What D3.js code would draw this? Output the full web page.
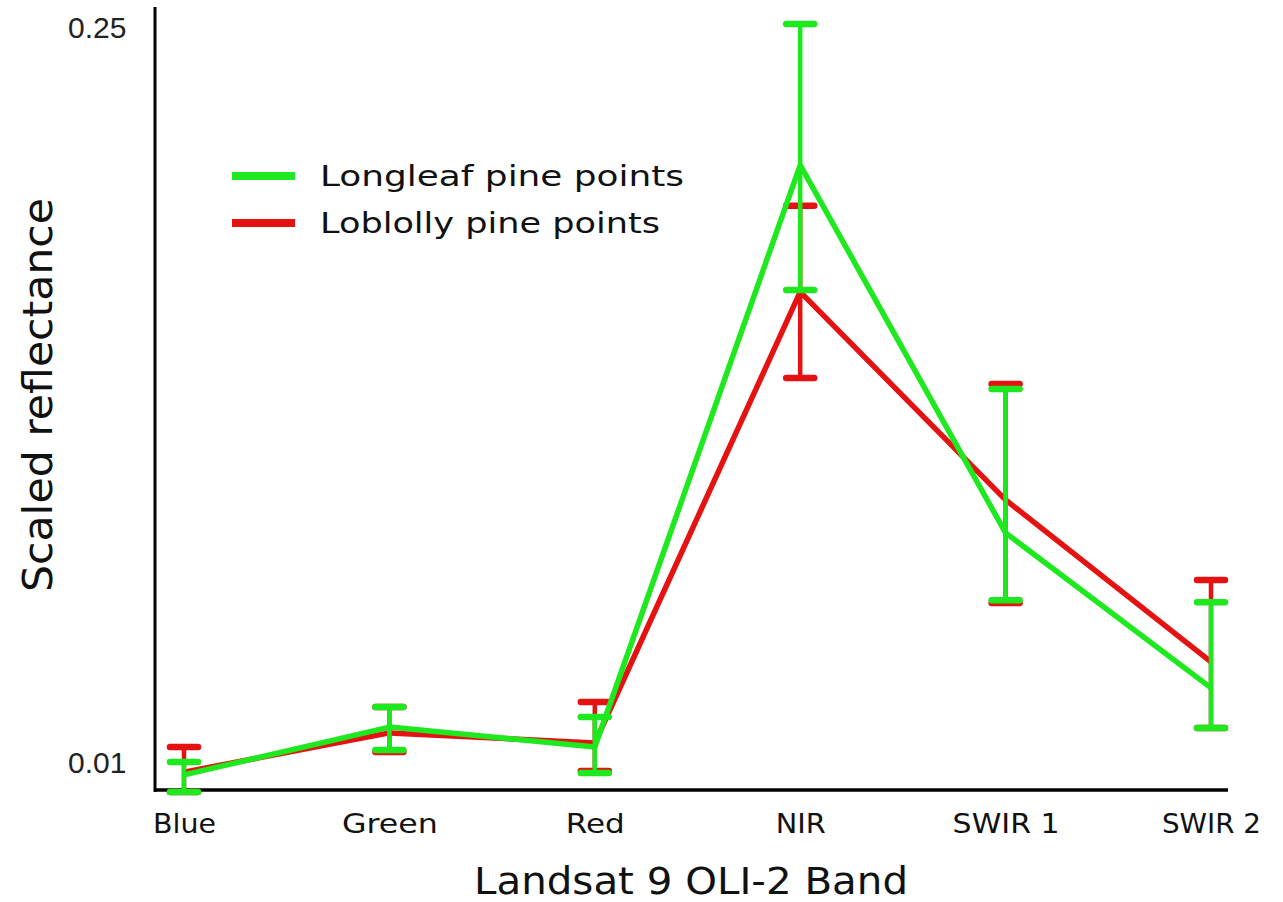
<!DOCTYPE html>
<html>
<head>
<meta charset="utf-8">
<script src="https://cdn.jsdelivr.net/npm/d3@7"></script>
<style>
  html, body { margin: 0; padding: 0; background: #fff; }
  svg { display: block; }
</style>
</head>
<body>
<svg id="chart" width="1283" height="902"></svg>
<script>
// ---- data ----
const bands = ["Blue", "Green", "Red", "NIR", "SWIR 1", "SWIR 2"];
const seriesNames = ["Longleaf pine points", "Loblolly pine points"];
const yTickValues = [0.01, 0.25];
const yTickLabels = ["0.01", "0.25"];

const longleafMean = [0.0058, 0.0214, 0.0149, 0.2049, 0.0848, 0.0342];
const longleafHigh = [0.0100, 0.0280, 0.0247, 0.2510, 0.1318, 0.0622];
const longleafLow  = [0.0002, 0.0139, 0.0064, 0.1641, 0.0628, 0.0211];

const loblollyMean = [0.0067, 0.0195, 0.0162, 0.1635, 0.0956, 0.0427];
const loblollyHigh = [0.0149, 0.0280, 0.0296, 0.1916, 0.1334, 0.0694];
const loblollyLow  = [0.0002, 0.0133, 0.0071, 0.1354, 0.0619, 0.0211];

// ---- setup ----
const svg = d3.select("#chart");
const font = "'DejaVu Sans', sans-serif";
const GREEN = "#1ee81e";
const RED = "#e51212";

const x = d3.scalePoint().domain(bands).range([184, 1211]);
const y = d3.scaleLinear().domain([0.01, 0.25]).range([762, 27]);

const plotLeft = 155, plotRight = 1228, plotTop = 7, plotBottom = 790;

// axes lines
svg.append("line").attr("x1", plotLeft).attr("x2", plotLeft)
  .attr("y1", plotTop).attr("y2", plotBottom + 2)
  .attr("stroke", "#000").attr("stroke-width", 3);
svg.append("line").attr("x1", plotLeft - 1).attr("x2", plotRight)
  .attr("y1", plotBottom).attr("y2", plotBottom)
  .attr("stroke", "#000").attr("stroke-width", 3.5);

// x axis labels
const xAxis = d3.axisBottom(x).tickSize(0).tickPadding(0);
const gx = svg.append("g").attr("transform", `translate(0,${plotBottom})`).call(xAxis);
gx.select(".domain").remove();
gx.selectAll("text")
  .attr("y", 43).attr("dy", null)
  .attr("font-family", font).attr("font-size", 27).attr("fill", "#111")
  .attr("textLength", d => ({"Blue":63,"Green":96,"Red":59,"NIR":50,"SWIR 1":107,"SWIR 2":99})[d])
  .attr("lengthAdjust", "spacingAndGlyphs");

// y axis labels
const yAxis = d3.axisLeft(y).tickValues(yTickValues)
  .tickFormat((d, i) => yTickLabels[i]).tickSize(0);
const gy = svg.append("g").call(yAxis);
gy.select(".domain").remove();
gy.selectAll("text")
  .attr("x", 68).attr("dy", "0.35em").attr("text-anchor", "start")
  .attr("font-family", "'Liberation Sans', Arial, sans-serif")
  .attr("font-size", 30).attr("fill", "#222");

// axis titles
svg.append("text").attr("x", 691).attr("y", 894)
  .attr("text-anchor", "middle").attr("font-family", font).attr("font-size", 37)
  .attr("fill", "#111")
  .attr("textLength", 434).attr("lengthAdjust", "spacingAndGlyphs")
  .text("Landsat 9 OLI-2 Band");
svg.append("text")
  .attr("transform", "translate(52,395) rotate(-90)")
  .attr("text-anchor", "middle").attr("font-family", font).attr("font-size", 40)
  .attr("fill", "#111")
  .attr("textLength", 394).attr("lengthAdjust", "spacingAndGlyphs")
  .text("Scaled reflectance");

// series
const series = [
  { name: seriesNames[1], color: RED, mean: loblollyMean, hi: loblollyHigh, lo: loblollyLow },
  { name: seriesNames[0], color: GREEN, mean: longleafMean, hi: longleafHigh, lo: longleafLow }
];

const line = d3.line().x(d => x(d.band)).y(d => y(d.v));
const capHalf = 14;

series.forEach(s => {
  const pts = bands.map((b, i) => ({ band: b, v: s.mean[i], hi: s.hi[i], lo: s.lo[i] }));
  const g = svg.append("g");
  // error bars
  g.selectAll("line.eb").data(pts).join("line").attr("class", "eb")
    .attr("x1", d => x(d.band)).attr("x2", d => x(d.band))
    .attr("y1", d => y(d.hi)).attr("y2", d => y(d.lo))
    .attr("stroke", s.color).attr("stroke-width", 4.5);
  ["hi", "lo"].forEach(k => {
    g.selectAll("line.cap" + k).data(pts).join("line").attr("class", "cap" + k)
      .attr("x1", d => x(d.band) - capHalf).attr("x2", d => x(d.band) + capHalf)
      .attr("y1", d => y(d[k])).attr("y2", d => y(d[k]))
      .attr("stroke", s.color).attr("stroke-width", 6.5)
      .attr("stroke-linecap", "round");
  });
  // mean line
  g.append("path").datum(pts.map(p => ({ band: p.band, v: p.v })))
    .attr("d", line).attr("fill", "none")
    .attr("stroke", s.color).attr("stroke-width", 5.5)
    .attr("stroke-linejoin", "round");
});

// legend
const legendItems = [
  { name: seriesNames[0], color: GREEN, len: 364 },
  { name: seriesNames[1], color: RED, len: 340 }
];
const lg = svg.append("g");
legendItems.forEach((it, i) => {
  const cy = 176 + i * 47;
  lg.append("line").attr("x1", 232).attr("x2", 295).attr("y1", cy).attr("y2", cy)
    .attr("stroke", it.color).attr("stroke-width", 8);
  lg.append("text").attr("x", 320).attr("y", cy + 10)
    .attr("font-family", font).attr("font-size", 29).attr("fill", "#111")
    .attr("textLength", it.len).attr("lengthAdjust", "spacingAndGlyphs")
    .text(it.name);
});
</script>
</body>
</html>
